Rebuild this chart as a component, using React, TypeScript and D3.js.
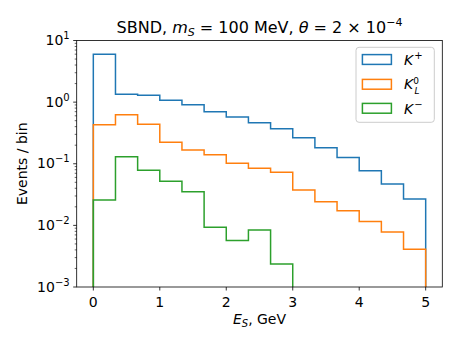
import * as d3 from 'd3';

const WIDTH = 461;
const HEIGHT = 346;
const PLOT = { left: 76.7, right: 442.3, top: 40.5, bottom: 287 };

// 15 bins from 0 to 5 GeV
const binEdges = d3.range(0, 16).map((i) => i / 3);

const kPlus = [6.0, 1.34, 1.29, 1.07, 0.91, 0.7, 0.574, 0.464, 0.371, 0.265, 0.182, 0.126, 0.0769, 0.0468, 0.0267];
const kL0 = [0.431, 0.626, 0.437, 0.223, 0.167, 0.14, 0.1015, 0.0842, 0.0725, 0.0374, 0.0241, 0.0172, 0.0116, 0.00783, 0.0041];
const kMinus = [0.0257, 0.13, 0.0781, 0.0518, 0.0351, 0.00935, 0.00567, 0.00845, 0.00236, 0, 0, 0, 0, 0, 0];

const xTicks = [0, 1, 2, 3, 4, 5];
const yTickExps = [-3, -2, -1, 0, 1];

const series = [
    { name: 'K+', values: kPlus, color: '#1f77b4' },
    { name: 'KL0', values: kL0, color: '#ff7f0e' },
    { name: 'K-', values: kMinus, color: '#2ca02c' },
];

const FONT = 'DejaVu Sans, sans-serif';

const App = () => {
    const xScale = d3.scaleLinear().domain([-0.25, 5.25]).range([PLOT.left, PLOT.right]);
    const yScale = d3.scaleLog().domain([1e-3, 1e1]).range([PLOT.bottom, PLOT.top]);

    // step outline; empty bins at the end just drop to the floor (hidden under the spine)
    const stepPath = (values: number[]) => {
        let last = values.length - 1;
        while (last > 0 && values[last] <= 0) last--;
        const pts: [number, number][] = [[xScale(binEdges[0]), PLOT.bottom]];
        for (let i = 0; i <= last; i++) {
            const y = values[i] > 0 ? yScale(values[i]) : PLOT.bottom;
            pts.push([xScale(binEdges[i]), y]);
            pts.push([xScale(binEdges[i + 1]), y]);
        }
        pts.push([xScale(binEdges[last + 1]), PLOT.bottom]);
        return d3.line()(pts) || '';
    };

    const minorTicks: number[] = [];
    for (let e = -3; e < 1; e++) {
        for (let m = 2; m <= 9; m++) minorTicks.push(m * Math.pow(10, e));
    }

    const legendX = 356;
    const legendY = 47.3;

    return (
        <svg width={WIDTH} height={HEIGHT} style={{ position: 'absolute', left: 0, top: 0 }} fontFamily={FONT}>
            <rect width={WIDTH} height={HEIGHT} fill="white" />
            <defs>
                <clipPath id="plot-clip">
                    <rect x={PLOT.left} y={PLOT.top} width={PLOT.right - PLOT.left} height={PLOT.bottom - PLOT.top} />
                </clipPath>
            </defs>

            <g clipPath="url(#plot-clip)">
                {series.map((s) => (
                    <path key={s.name} d={stepPath(s.values)} fill="none" stroke={s.color} strokeWidth={1.5} />
                ))}
            </g>

            {/* frame */}
            <rect
                x={PLOT.left}
                y={PLOT.top}
                width={PLOT.right - PLOT.left}
                height={PLOT.bottom - PLOT.top}
                fill="none"
                stroke="#000"
                strokeWidth={0.8}
            />

            {/* x axis */}
            {xTicks.map((t) => (
                <g key={t} transform={`translate(${xScale(t)},${PLOT.bottom})`}>
                    <line y2={3.5} stroke="#000" strokeWidth={0.8} />
                    <text y={19.7} textAnchor="middle" fontSize={14}>
                        {t}
                    </text>
                </g>
            ))}
            <text x={(PLOT.left + PLOT.right) / 2} y={324} textAnchor="middle" fontSize={14}>
                <tspan fontStyle="italic">E</tspan>
                <tspan fontStyle="italic" fontSize={10} dy={3}>
                    S
                </tspan>
                <tspan dy={-3}>, GeV</tspan>
            </text>

            {/* y axis */}
            {minorTicks.map((t) => (
                <line key={t} x1={PLOT.left - 2} x2={PLOT.left} y1={yScale(t)} y2={yScale(t)} stroke="#000" strokeWidth={0.6} />
            ))}
            {yTickExps.map((e) => {
                const y = yScale(Math.pow(10, e));
                return (
                    <g key={e}>
                        <line x1={PLOT.left - 3.5} x2={PLOT.left} y1={y} y2={y} stroke="#000" strokeWidth={0.8} />
                        <text x={PLOT.left - 7} y={y + 4.7} textAnchor="end" fontSize={14}>
                            10
                            <tspan fontSize={10} dy={-6}>
                                {e < 0 ? `\u2212${-e}` : e}
                            </tspan>
                        </text>
                    </g>
                );
            })}
            <text
                transform={`translate(27,${(PLOT.top + PLOT.bottom) / 2}) rotate(-90)`}
                textAnchor="middle"
                fontSize={14}
            >
                Events / bin
            </text>

            {/* title */}
            <text x={(PLOT.left + PLOT.right) / 2} y={33} textAnchor="middle" fontSize={16}>
                SBND,{' '}
                <tspan fontStyle="italic">m</tspan>
                <tspan fontStyle="italic" fontSize={11} dy={3}>
                    S
                </tspan>
                <tspan dy={-3}> = 100 MeV, </tspan>
                <tspan fontStyle="italic">θ</tspan>
                <tspan> = 2 × 10</tspan>
                <tspan fontSize={11} dy={-7}>
                    −4
                </tspan>
            </text>

            {/* legend */}
            <rect
                x={legendX}
                y={legendY}
                width={78.3}
                height={75}
                rx={3}
                fill="white"
                fillOpacity={0.8}
                stroke="#cccccc"
                strokeWidth={1}
            />
            {series.map((s, i) => {
                const cy = [59.5, 84.3, 108.3][i];
                return (
                    <rect key={s.name} x={362.4} y={cy - 4.9} width={29} height={9.8} fill="none" stroke={s.color} strokeWidth={1.5} />
                );
            })}
            <text x={404} y={65} fontSize={14}>
                <tspan fontStyle="italic">K</tspan>
                <tspan fontSize={10} dy={-6} dx={1}>
                    +
                </tspan>
            </text>
            <text x={404} y={89.3} fontSize={14}>
                <tspan fontStyle="italic">K</tspan>
                <tspan fontSize={9} dy={-5}>
                    0
                </tspan>
            </text>
            <text x={414.5} y={94} fontSize={9} fontStyle="italic">
                L
            </text>
            <text x={404} y={114} fontSize={14}>
                <tspan fontStyle="italic">K</tspan>
                <tspan fontSize={10} dy={-6} dx={1}>
                    −
                </tspan>
            </text>
        </svg>
    );
};

export default App;
